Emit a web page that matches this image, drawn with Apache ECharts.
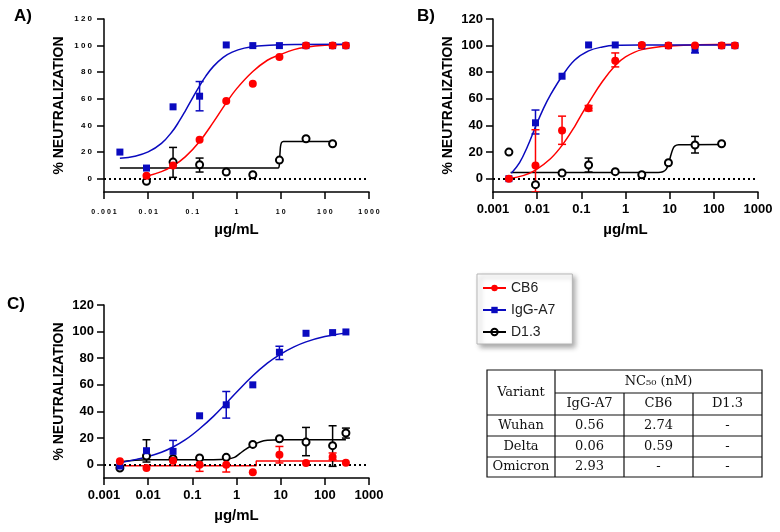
<!DOCTYPE html>
<html>
<head>
<meta charset="utf-8">
<script src="https://cdn.jsdelivr.net/npm/echarts@6/dist/echarts.min.js"></script>
<style>html,body{margin:0;padding:0;background:#fff}#c{width:780px;height:532px}</style>
</head>
<body>
<div id="c"></div>
<script>
// ---------- shared ----------
const conc = [0.00229, 0.00916, 0.0366, 0.146, 0.586, 2.34, 9.375, 37.5, 150, 300];
const xTickLabels = ['0.001', '0.01', '0.1', '1', '10', '100', '1000'];
const yTickValues = [0, 20, 40, 60, 80, 100, 120];
const seriesNames = ['CB6', 'IgG-A7', 'D1.3'];

// ---------- panel A (Wuhan) ----------
const aCB6 = [null, 2.3, 10, 29.3, 58.4, 71.4, 91.5, 100, 100, 100];
const aIgG = [20, 8, 54, 62, 100.5, 100, 100, 100, 100, 100];
const aD13 = [null, -2, 12.5, 10.5, 5, 3, 14, 30, 26.3, null];
const aCB6Err = [null, null, null, null, null, null, null, null, null, null];
const aIgGErr = [null, null, null, [51, 73], null, null, null, null, null, null];
const aD13Err = [null, null, [1, 23.5], [5, 15.5], null, null, null, null, null, null];
const aCB6Fit = [[0.00916, 1.9], [0.02, 5.3], [0.0366, 9.6], [0.07, 16.6], [0.146, 28], [0.3, 42.5], [0.586, 57], [1, 67.5], [2.34, 80.5], [5, 89], [9.375, 93], [20, 97], [37.5, 98.8], [100, 100.2], [300, 100.8]];
const aIgGFit = [[0.00229, 15.3], [0.005, 16.9], [0.01, 20.1], [0.02, 26.5], [0.035, 35.4], [0.05, 43], [0.07, 51.2], [0.1, 60.4], [0.146, 69.8], [0.2, 76.9], [0.3, 84.4], [0.5, 91.2], [0.8, 95.1], [1.5, 98.1], [3, 99.7], [10, 100.7], [300, 101]];
const aD13Fit = [[0.00229, 8], [8.8, 8], [9.3, 10], [9.6, 18], [9.9, 24], [10.4, 27], [11.5, 28], [150, 28]];

// ---------- panel B (Delta) ----------
const bCB6 = [0, 10, 36.3, 53, 88.7, 100.5, 100, 100, 100, 100];
const bIgG = [0, 42, 77, 100.5, 100.5, 100, 100, 97, 100, 100];
const bD13 = [20, -4.5, 4.3, 10.3, 5.3, 3, 12, 25.3, 26.3, null];
const bCB6Err = [null, [-10, 36.8], [25.8, 47], [51, 55], [84, 94.5], null, null, null, null, null];
const bIgGErr = [null, [33.6, 51.6], null, null, null, null, null, [94.5, 99.5], null, null];
const bD13Err = [null, null, null, [5, 15.5], null, null, null, [19.3, 31.8], null, null];
const bCB6Fit = [[0.00229, 0], [0.005, 2.5], [0.00916, 6.5], [0.02, 15], [0.0366, 25], [0.07, 39], [0.1, 48], [0.146, 57], [0.3, 73], [0.586, 85], [1, 91.5], [2.34, 97], [10, 99.8], [300, 101]];
const bIgGFit = [[0.0026, 4], [0.004, 12], [0.006, 24], [0.00916, 39], [0.014, 53], [0.02, 63], [0.0366, 77], [0.07, 89], [0.146, 96], [0.3, 99], [0.6, 100.2], [2, 100.5], [300, 100.5]];
const bD13Fit = [[0.0025, 4.7], [5.5, 4.7], [7, 5.2], [8.3, 7], [9.4, 11], [10.5, 17], [11.7, 22], [13, 24.5], [16, 25.5], [150, 25.7]];

// ---------- panel C (Omicron) ----------
const cCB6 = [2.5, -2.5, 3, 0, 0, -5.75, 7.5, 1.3, 5.8, 1.5];
const cIgG = [-1, 10.5, 10, 36.75, 45, 60, 84.5, 98.75, 99.25, 99.75];
const cD13 = [-2.5, 6.5, 4.5, 5, 5.5, 15.25, 19.5, 17, 14.3, 23.8];
const cCB6Err = [null, null, null, [-5, 5], [-5.5, 4.5], null, [1.3, 13.7], null, [3.7, 8.8], null];
const cIgGErr = [null, null, [3, 18.25], null, [35, 55], null, [79, 89], null, null, null];
const cD13Err = [null, [2, 18.75], null, null, null, null, null, [6.75, 28], [-1.25, 29.25], [20, 27.5]];
const cCB6Fit = [[0.00229, -0.8], [2.8, -0.8], [2.8, 2.8], [300, 2.8]];
const cIgGFit = [[0.00229, 1.5], [0.005, 3.8], [0.00916, 5.8], [0.02, 9.4], [0.0366, 13.3], [0.07, 18.8], [0.146, 27], [0.3, 36.3], [0.586, 46.2], [1, 54.4], [2.34, 66.8], [5, 76.3], [9.375, 82.6], [20, 88.5], [37.5, 92.3], [100, 96.3], [300, 99]];
const cD13Fit = [[0.00229, 2], [0.005, 3.3], [0.00916, 3.8], [0.3, 3.8], [0.6, 4.2], [0.9, 5.5], [1.2, 8.5], [1.6, 11.5], [2.34, 14.8], [3.5, 17.3], [5, 18.3], [10, 18.7], [300, 18.7]];

// ---------- table ----------
const tableVariants = ['Wuhan', 'Delta', 'Omicron'];
const tableCols = ['IgG-A7', 'CB6', 'D1.3'];
const tableValues = [['0.56', '2.74', '-'], ['0.06', '0.59', '-'], ['2.93', '-', '-']];
const tableHeader = 'NC\u2085\u2080 (nM)';
const tableCorner = 'Variant';

// ---------- styling ----------
const FF = 'Liberation Sans, Arial, Helvetica, sans-serif';
const RED = '#ff0000';
const BLUE = '#0a0abf';
const BLACK = '#000000';

const panels = [
  { g: 0, small: true,  cb6: aCB6, igg: aIgG, d13: aD13, cb6Err: aCB6Err, iggErr: aIgGErr, d13Err: aD13Err, cb6Fit: aCB6Fit, iggFit: aIgGFit, d13Fit: aD13Fit, cb6Smooth: true },
  { g: 1, small: false, cb6: bCB6, igg: bIgG, d13: bD13, cb6Err: bCB6Err, iggErr: bIgGErr, d13Err: bD13Err, cb6Fit: bCB6Fit, iggFit: bIgGFit, d13Fit: bD13Fit, cb6Smooth: true },
  { g: 2, small: false, cb6: cCB6, igg: cIgG, d13: cD13, cb6Err: cCB6Err, iggErr: cIgGErr, d13Err: cD13Err, cb6Fit: cCB6Fit, iggFit: cIgGFit, d13Fit: cD13Fit, cb6Smooth: false }
];

const grids = [
  { left: 104, top: 19, width: 265, height: 173 },
  { left: 493, top: 19, width: 265, height: 173 },
  { left: 104, top: 305, width: 265, height: 173 }
];

const spaced = s => String(s).split('').join(' ');

function xAxisCfg(g, small) {
  return {
    type: 'log', logBase: 10, min: 0.001, max: 1000, gridIndex: g,
    axisLine: { show: true, onZero: false, lineStyle: { color: BLACK, width: 1.5 } },
    axisTick: { show: true, length: 7, lineStyle: { color: BLACK, width: 1.5 } },
    minorTick: { show: false },
    splitLine: { show: false },
    axisLabel: {
      margin: small ? 17 : 11,
      fontSize: small ? 7 : 13, fontWeight: 'bold', color: BLACK, fontFamily: FF,
      formatter: v => {
        const s = xTickLabels[Math.round(Math.log10(v)) + 3];
        return small ? spaced(s) : s;
      }
    },
    name: 'µg/mL', nameLocation: 'middle', nameGap: 30,
    nameTextStyle: { fontSize: 15, fontWeight: 'bold', color: BLACK, fontFamily: FF }
  };
}

function yAxisCfg(g, small) {
  return {
    type: 'value', gridIndex: g, min: -10, max: 120,
    axisLine: { show: true, onZero: false, lineStyle: { color: BLACK, width: 1.5 } },
    axisTick: { show: true, length: 7, lineStyle: { color: BLACK, width: 1.5 }, customValues: yTickValues },
    splitLine: { show: false },
    axisLabel: {
      customValues: yTickValues,
      margin: small ? 12 : 10,
      fontSize: small ? 8 : 13, fontWeight: 'bold', color: BLACK, fontFamily: FF,
      formatter: v => small ? spaced(v) : String(v)
    },
    name: '% NEUTRALIZATION', nameLocation: 'middle', nameGap: 38,
    nameTextStyle: { fontSize: 14, fontWeight: 'bold', color: BLACK, fontFamily: FF }
  };
}

function errRender(params, api) {
  const x = api.value(0), lo = api.value(1), hi = api.value(2);
  const p1 = api.coord([x, lo]), p2 = api.coord([x, hi]);
  const w = 4;
  const style = { stroke: api.visual('color'), lineWidth: 1.5 };
  return {
    type: 'group', children: [
      { type: 'line', shape: { x1: p1[0], y1: p1[1], x2: p2[0], y2: p2[1] }, style },
      { type: 'line', shape: { x1: p1[0] - w, y1: p1[1], x2: p1[0] + w, y2: p1[1] }, style },
      { type: 'line', shape: { x1: p2[0] - w, y1: p2[1], x2: p2[0] + w, y2: p2[1] }, style }
    ]
  };
}

const pts = vals => conc.map((x, i) => vals[i] == null ? null : [x, vals[i]]).filter(Boolean);
const errs = arr => conc.map((x, i) => arr[i] == null ? null : [x, arr[i][0], arr[i][1]]).filter(Boolean);

const series = [];
// legend-only series
series.push({ name: 'CB6', type: 'line', xAxisIndex: 0, yAxisIndex: 0, data: [], symbol: 'circle',
  itemStyle: { color: RED }, lineStyle: { color: RED, width: 1 } });
series.push({ name: 'IgG-A7', type: 'line', xAxisIndex: 0, yAxisIndex: 0, data: [], symbol: 'rect',
  itemStyle: { color: BLUE }, lineStyle: { color: BLUE, width: 1 } });
series.push({ name: 'D1.3', type: 'line', xAxisIndex: 0, yAxisIndex: 0, data: [], symbol: 'circle',
  itemStyle: { color: 'rgba(255,255,255,0)', borderColor: BLACK, borderWidth: 1.3 }, lineStyle: { color: BLACK, width: 1 } });

panels.forEach(p => {
  const ax = { xAxisIndex: p.g, yAxisIndex: p.g };
  const fit = (data, color, smooth, extra) => Object.assign({
    type: 'line', ...ax, data, symbol: 'none', showSymbol: false,
    smooth: smooth ? 0.4 : false,
    lineStyle: { color, width: 1.5 }, z: 2, silent: true
  }, extra || {});
  series.push(fit(p.d13Fit, BLACK, true, {
    smooth: 0.25,
    markLine: {
      silent: true, symbol: 'none', label: { show: false },
      lineStyle: { color: BLACK, type: [2, 3], width: 2 },
      data: [{ yAxis: 0 }]
    }
  }));
  series.push(fit(p.cb6Fit, RED, p.cb6Smooth));
  series.push(fit(p.iggFit, BLUE, true));

  [[p.d13Err, BLACK], [p.iggErr, BLUE], [p.cb6Err, RED]].forEach(([e, col]) => {
    series.push({ type: 'custom', ...ax, renderItem: errRender, data: errs(e),
      encode: { x: 0, y: [1, 2] }, itemStyle: { color: col }, z: 3, silent: true, clip: true });
  });

  series.push({ type: 'scatter', ...ax, data: pts(p.d13), symbol: 'circle', symbolSize: 7,
    itemStyle: { color: '#fff', borderColor: BLACK, borderWidth: 2, opacity: 1 }, z: 4, silent: true });
  series.push({ type: 'scatter', ...ax, data: pts(p.igg), symbol: 'rect', symbolSize: 7,
    itemStyle: { color: BLUE, opacity: 1 }, z: 5, silent: true });
  series.push({ type: 'scatter', ...ax, data: pts(p.cb6), symbol: 'circle', symbolSize: 8,
    itemStyle: { color: RED, opacity: 1 }, z: 6, silent: true });
});

// ---------- table graphics ----------
const colX = [487, 555, 624, 693, 762];
const rowY = [370, 393, 415, 436, 457, 477];
const tFont = { fontSize: 13, fontFamily: 'DejaVu Serif, Liberation Serif, serif', fill: '#111', align: 'center', verticalAlign: 'middle' };
const L = (x1, y1, x2, y2) => ({ type: 'line', shape: { x1, y1, x2, y2 }, style: { stroke: '#111', lineWidth: 1.2 }, z: 10 });
const T = (text, x, y) => ({ type: 'text', x, y, style: Object.assign({ text }, tFont), z: 11 });
const graphics = [];
graphics.push({ type: 'rect', shape: { x: colX[0], y: rowY[0], width: colX[4] - colX[0], height: rowY[5] - rowY[0] },
  style: { fill: '#fff', stroke: '#111', lineWidth: 1.2 }, z: 9 });
graphics.push(L(colX[1], rowY[1], colX[4], rowY[1]));
for (let r = 2; r < 5; r++) graphics.push(L(colX[0], rowY[r], colX[4], rowY[r]));
graphics.push(L(colX[1], rowY[0], colX[1], rowY[5]));
graphics.push(L(colX[2], rowY[1], colX[2], rowY[5]));
graphics.push(L(colX[3], rowY[1], colX[3], rowY[5]));
graphics.push(T(tableCorner, (colX[0] + colX[1]) / 2, (rowY[0] + rowY[2]) / 2));
graphics.push(T(tableHeader, (colX[1] + colX[4]) / 2, (rowY[0] + rowY[1]) / 2));
tableCols.forEach((c, i) => graphics.push(T(c, (colX[i + 1] + colX[i + 2]) / 2, (rowY[1] + rowY[2]) / 2)));
tableVariants.forEach((v, r) => {
  const cy = (rowY[r + 2] + rowY[r + 3]) / 2;
  graphics.push(T(v, (colX[0] + colX[1]) / 2, cy));
  tableValues[r].forEach((val, i) => graphics.push(T(val, (colX[i + 1] + colX[i + 2]) / 2, cy)));
});
// panel letters
const letterStyle = { fontSize: 17, fontWeight: 'bold', fontFamily: FF, fill: '#000' };
graphics.push({ type: 'text', x: 14, y: 8, style: Object.assign({ text: 'A)' }, letterStyle) });
graphics.push({ type: 'text', x: 417, y: 8, style: Object.assign({ text: 'B)' }, letterStyle) });
graphics.push({ type: 'text', x: 7, y: 296, style: Object.assign({ text: 'C)' }, letterStyle) });

const chart = echarts.init(document.getElementById('c'), null, { renderer: 'canvas' });
chart.setOption({
  animation: false,
  backgroundColor: '#fff',
  grid: grids,
  xAxis: panels.map(p => xAxisCfg(p.g, p.small)),
  yAxis: panels.map(p => yAxisCfg(p.g, p.small)),
  legend: {
    data: seriesNames, orient: 'vertical', left: 477, top: 274,
    itemWidth: 23, itemHeight: 8, itemGap: 8,
    padding: [7, 17, 5, 5],
    backgroundColor: '#fff', borderColor: '#b5b5b5', borderWidth: 1,
    shadowBlur: 5, shadowColor: 'rgba(0,0,0,0.35)', shadowOffsetX: 3, shadowOffsetY: 3,
    textStyle: { fontSize: 14, fontFamily: FF, color: '#222' },
    selectedMode: false
  },
  series,
  graphic: graphics
});
</script>
</body>
</html>
